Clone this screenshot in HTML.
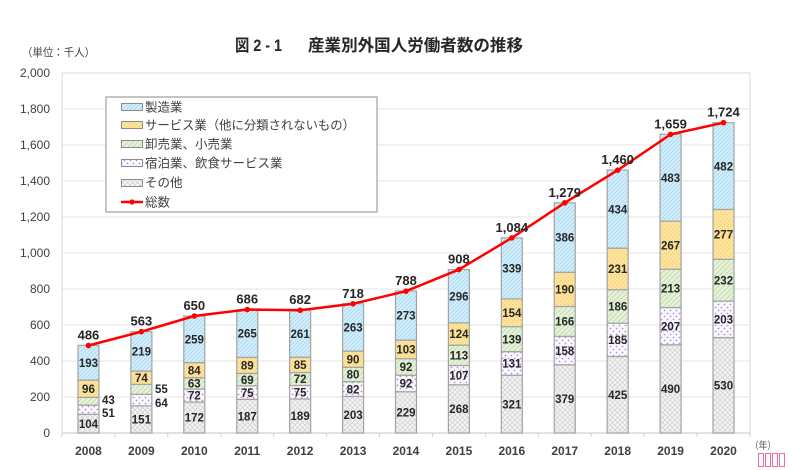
<!DOCTYPE html>
<html><head><meta charset="utf-8"><style>
html,body{margin:0;padding:0;background:#fff;}
svg{display:block;}
text{font-family:"Liberation Sans","Noto Sans CJK JP",sans-serif;}
</style></head><body>
<svg width="790" height="470" viewBox="0 0 790 470" xmlns="http://www.w3.org/2000/svg">
<defs>
<pattern id="pm" width="4" height="4" patternUnits="userSpaceOnUse"><rect width="4" height="4" fill="#d4eefb"/><path d="M-1,1 L1,-1 M0,4 L4,0 M3,5 L5,3" stroke="#a6d9f1" stroke-width="0.8"/></pattern>
<pattern id="ps" width="4" height="4" patternUnits="userSpaceOnUse"><rect width="4" height="4" fill="#fde39c"/><rect x="0" y="0" width="1.2" height="1.2" fill="#f3cf72"/><rect x="2" y="2" width="1.2" height="1.2" fill="#f3cf72"/></pattern>
<pattern id="pw" width="5" height="5" patternUnits="userSpaceOnUse"><rect width="5" height="5" fill="#e6f2dc"/><path d="M-1,1 L1,-1 M0,5 L5,0 M4,6 L6,4" stroke="#bcdba2" stroke-width="0.8"/></pattern>
<pattern id="ph" width="6" height="6" patternUnits="userSpaceOnUse"><rect width="6" height="6" fill="#fbf8fe"/><circle cx="1.5" cy="1.5" r="0.9" fill="#b48ee0"/><circle cx="4.5" cy="4.5" r="0.9" fill="#b48ee0"/></pattern>
<pattern id="po" width="5" height="5" patternUnits="userSpaceOnUse"><rect width="5" height="5" fill="#f4f4f4"/><path d="M0,0 L5,5 M5,0 L0,5" stroke="#cfcfcf" stroke-width="0.7"/></pattern>
</defs>

<!-- title -->
<text x="235" y="51" font-size="16.5" font-weight="bold" fill="#262626" textLength="47" lengthAdjust="spacingAndGlyphs">図 2 - 1</text>
<text x="308" y="51" font-size="16.5" font-weight="bold" fill="#262626" textLength="215" lengthAdjust="spacingAndGlyphs">産業別外国人労働者数の推移</text>
<text x="22" y="56" font-size="11" fill="#404040" textLength="73" lengthAdjust="spacingAndGlyphs">（単位：千人）</text>

<!-- gridlines -->
<g stroke="#e3e3e3" stroke-width="1">
<line x1="62" y1="397" x2="750" y2="397"/>
<line x1="62" y1="361" x2="750" y2="361"/>
<line x1="62" y1="325" x2="750" y2="325"/>
<line x1="62" y1="289" x2="750" y2="289"/>
<line x1="62" y1="253" x2="750" y2="253"/>
<line x1="62" y1="217" x2="750" y2="217"/>
<line x1="62" y1="181" x2="750" y2="181"/>
<line x1="62" y1="145" x2="750" y2="145"/>
<line x1="62" y1="109" x2="750" y2="109"/>
</g>
<rect x="62" y="73" width="688" height="360" fill="none" stroke="#d9d9d9" stroke-width="1"/>
<line x1="62" y1="433" x2="750" y2="433" stroke="#d0d0d0" stroke-width="1.2"/>
<g stroke="#d0d0d0" stroke-width="1">
<line x1="62" y1="433" x2="62" y2="437"/><line x1="114.9" y1="433" x2="114.9" y2="437"/><line x1="167.8" y1="433" x2="167.8" y2="437"/><line x1="220.8" y1="433" x2="220.8" y2="437"/><line x1="273.7" y1="433" x2="273.7" y2="437"/><line x1="326.6" y1="433" x2="326.6" y2="437"/><line x1="379.5" y1="433" x2="379.5" y2="437"/><line x1="432.4" y1="433" x2="432.4" y2="437"/><line x1="485.4" y1="433" x2="485.4" y2="437"/><line x1="538.3" y1="433" x2="538.3" y2="437"/><line x1="591.2" y1="433" x2="591.2" y2="437"/><line x1="644.1" y1="433" x2="644.1" y2="437"/><line x1="697" y1="433" x2="697" y2="437"/><line x1="750" y1="433" x2="750" y2="437"/>
</g>

<!-- y axis labels -->
<g font-size="12" fill="#404040" text-anchor="end">
<text x="50" y="437">0</text>
<text x="50" y="401">200</text>
<text x="50" y="365">400</text>
<text x="50" y="329">600</text>
<text x="50" y="293">800</text>
<text x="50" y="257">1,000</text>
<text x="50" y="221">1,200</text>
<text x="50" y="185">1,400</text>
<text x="50" y="149">1,600</text>
<text x="50" y="113">1,800</text>
<text x="50" y="77">2,000</text>
</g>

<!-- bars -->
<g stroke="#a3a3a3" stroke-width="1.2">
<!-- 2008 -->
<rect x="77.96" y="414.28" width="21" height="18.72" fill="url(#po)"/>
<rect x="77.96" y="405.1" width="21" height="9.18" fill="url(#ph)"/>
<rect x="77.96" y="397.36" width="21" height="7.74" fill="url(#pw)"/>
<rect x="77.96" y="380.08" width="21" height="17.28" fill="url(#ps)"/>
<rect x="77.96" y="345.34" width="21" height="34.74" fill="url(#pm)"/>
<!-- 2009 -->
<rect x="130.88" y="405.82" width="21" height="27.18" fill="url(#po)"/>
<rect x="130.88" y="394.3" width="21" height="11.52" fill="url(#ph)"/>
<rect x="130.88" y="384.4" width="21" height="9.9" fill="url(#pw)"/>
<rect x="130.88" y="371.08" width="21" height="13.32" fill="url(#ps)"/>
<rect x="130.88" y="331.66" width="21" height="39.42" fill="url(#pm)"/>
<!-- 2010 -->
<rect x="183.8" y="402.04" width="21" height="30.96" fill="url(#po)"/>
<rect x="183.8" y="389.08" width="21" height="12.96" fill="url(#ph)"/>
<rect x="183.8" y="377.74" width="21" height="11.34" fill="url(#pw)"/>
<rect x="183.8" y="362.62" width="21" height="15.12" fill="url(#ps)"/>
<rect x="183.8" y="316" width="21" height="46.62" fill="url(#pm)"/>
<!-- 2011 -->
<rect x="236.72" y="399.34" width="21" height="33.66" fill="url(#po)"/>
<rect x="236.72" y="385.84" width="21" height="13.5" fill="url(#ph)"/>
<rect x="236.72" y="373.42" width="21" height="12.42" fill="url(#pw)"/>
<rect x="236.72" y="357.4" width="21" height="16.02" fill="url(#ps)"/>
<rect x="236.72" y="309.7" width="21" height="47.7" fill="url(#pm)"/>
<!-- 2012 -->
<rect x="289.64" y="398.98" width="21" height="34.02" fill="url(#po)"/>
<rect x="289.64" y="385.48" width="21" height="13.5" fill="url(#ph)"/>
<rect x="289.64" y="372.52" width="21" height="12.96" fill="url(#pw)"/>
<rect x="289.64" y="357.22" width="21" height="15.3" fill="url(#ps)"/>
<rect x="289.64" y="310.24" width="21" height="46.98" fill="url(#pm)"/>
<!-- 2013 -->
<rect x="342.56" y="396.46" width="21" height="36.54" fill="url(#po)"/>
<rect x="342.56" y="381.7" width="21" height="14.76" fill="url(#ph)"/>
<rect x="342.56" y="367.3" width="21" height="14.4" fill="url(#pw)"/>
<rect x="342.56" y="351.1" width="21" height="16.2" fill="url(#ps)"/>
<rect x="342.56" y="303.76" width="21" height="47.34" fill="url(#pm)"/>
<!-- 2014 -->
<rect x="395.48" y="391.78" width="21" height="41.22" fill="url(#po)"/>
<rect x="395.48" y="375.22" width="21" height="16.56" fill="url(#ph)"/>
<rect x="395.48" y="358.66" width="21" height="16.56" fill="url(#pw)"/>
<rect x="395.48" y="340.12" width="21" height="18.54" fill="url(#ps)"/>
<rect x="395.48" y="290.98" width="21" height="49.14" fill="url(#pm)"/>
<!-- 2015 -->
<rect x="448.4" y="384.76" width="21" height="48.24" fill="url(#po)"/>
<rect x="448.4" y="365.5" width="21" height="19.26" fill="url(#ph)"/>
<rect x="448.4" y="345.16" width="21" height="20.34" fill="url(#pw)"/>
<rect x="448.4" y="322.84" width="21" height="22.32" fill="url(#ps)"/>
<rect x="448.4" y="269.56" width="21" height="53.28" fill="url(#pm)"/>
<!-- 2016 -->
<rect x="501.32" y="375.22" width="21" height="57.78" fill="url(#po)"/>
<rect x="501.32" y="351.64" width="21" height="23.58" fill="url(#ph)"/>
<rect x="501.32" y="326.62" width="21" height="25.02" fill="url(#pw)"/>
<rect x="501.32" y="298.9" width="21" height="27.72" fill="url(#ps)"/>
<rect x="501.32" y="237.88" width="21" height="61.02" fill="url(#pm)"/>
<!-- 2017 -->
<rect x="554.24" y="364.78" width="21" height="68.22" fill="url(#po)"/>
<rect x="554.24" y="336.34" width="21" height="28.44" fill="url(#ph)"/>
<rect x="554.24" y="306.46" width="21" height="29.88" fill="url(#pw)"/>
<rect x="554.24" y="272.26" width="21" height="34.2" fill="url(#ps)"/>
<rect x="554.24" y="202.78" width="21" height="69.48" fill="url(#pm)"/>
<!-- 2018 -->
<rect x="607.16" y="356.5" width="21" height="76.5" fill="url(#po)"/>
<rect x="607.16" y="323.2" width="21" height="33.3" fill="url(#ph)"/>
<rect x="607.16" y="289.72" width="21" height="33.48" fill="url(#pw)"/>
<rect x="607.16" y="248.14" width="21" height="41.58" fill="url(#ps)"/>
<rect x="607.16" y="170.02" width="21" height="78.12" fill="url(#pm)"/>
<!-- 2019 -->
<rect x="660.08" y="344.8" width="21" height="88.2" fill="url(#po)"/>
<rect x="660.08" y="307.54" width="21" height="37.26" fill="url(#ph)"/>
<rect x="660.08" y="269.2" width="21" height="38.34" fill="url(#pw)"/>
<rect x="660.08" y="221.14" width="21" height="48.06" fill="url(#ps)"/>
<rect x="660.08" y="134.2" width="21" height="86.94" fill="url(#pm)"/>
<!-- 2020 -->
<rect x="713" y="337.6" width="21" height="95.4" fill="url(#po)"/>
<rect x="713" y="301.06" width="21" height="36.54" fill="url(#ph)"/>
<rect x="713" y="259.3" width="21" height="41.76" fill="url(#pw)"/>
<rect x="713" y="209.44" width="21" height="49.86" fill="url(#ps)"/>
<rect x="713" y="122.68" width="21" height="86.76" fill="url(#pm)"/>
</g>

<!-- segment labels -->
<g font-size="11.5" font-weight="bold" fill="#262626" text-anchor="middle">
<text x="88.46" y="427.8">104</text><text x="88.46" y="392.9">96</text><text x="88.46" y="366.9">193</text>
<text x="141.38" y="423.6">151</text><text x="141.38" y="381.9">74</text><text x="141.38" y="355.5">219</text>
<text x="194.3" y="421.7">172</text><text x="194.3" y="399.7">72</text><text x="194.3" y="387.6">63</text><text x="194.3" y="374.4">84</text><text x="194.3" y="343.5">259</text>
<text x="247.22" y="420.4">187</text><text x="247.22" y="396.8">75</text><text x="247.22" y="383.8">69</text><text x="247.22" y="369.6">89</text><text x="247.22" y="337.7">265</text>
<text x="300.14" y="420.2">189</text><text x="300.14" y="396.4">75</text><text x="300.14" y="383.2">72</text><text x="300.14" y="369.1">85</text><text x="300.14" y="337.9">261</text>
<text x="353.06" y="418.9">203</text><text x="353.06" y="393.3">82</text><text x="353.06" y="378.7">80</text><text x="353.06" y="363.4">90</text><text x="353.06" y="331.6">263</text>
<text x="405.98" y="416.6">229</text><text x="405.98" y="387.7">92</text><text x="405.98" y="371.1">92</text><text x="405.98" y="353.6">103</text><text x="405.98" y="319.7">273</text>
<text x="458.9" y="413.1">268</text><text x="458.9" y="379.3">107</text><text x="458.9" y="359.5">113</text><text x="458.9" y="338.2">124</text><text x="458.9" y="300.4">296</text>
<text x="511.82" y="408.3">321</text><text x="511.82" y="367.6">131</text><text x="511.82" y="343.3">139</text><text x="511.82" y="316.9">154</text><text x="511.82" y="272.6">339</text>
<text x="564.74" y="403.1">379</text><text x="564.74" y="354.8">158</text><text x="564.74" y="325.6">166</text><text x="564.74" y="293.5">190</text><text x="564.74" y="241.7">386</text>
<text x="617.66" y="398.9">425</text><text x="617.66" y="344">185</text><text x="617.66" y="310.6">186</text><text x="617.66" y="273.1">231</text><text x="617.66" y="213.3">434</text>
<text x="670.58" y="393.1">490</text><text x="670.58" y="330.4">207</text><text x="670.58" y="292.6">213</text><text x="670.58" y="249.3">267</text><text x="670.58" y="181.9">483</text>
<text x="723.5" y="389.5">530</text><text x="723.5" y="323.5">203</text><text x="723.5" y="284.4">232</text><text x="723.5" y="238.6">277</text><text x="723.5" y="170.3">482</text>
</g>
<g font-size="11.5" font-weight="bold" fill="#262626">
<text x="102" y="404.2">43</text><text x="102" y="417.2">51</text>
<text x="155" y="393.2">55</text><text x="155" y="407.2">64</text>
</g>

<!-- total line -->
<polyline points="88.46,345.52 141.38,331.66 194.3,316 247.22,309.52 300.14,310.24 353.06,303.76 405.98,291.16 458.9,269.56 511.82,237.88 564.74,202.78 617.66,170.2 670.58,134.38 723.5,122.68" fill="none" stroke="#ff0000" stroke-width="2.5" stroke-linejoin="round"/>
<g fill="#ff0000">
<circle cx="88.46" cy="345.52" r="2.8"/><circle cx="141.38" cy="331.66" r="2.8"/><circle cx="194.3" cy="316" r="2.8"/><circle cx="247.22" cy="309.52" r="2.8"/><circle cx="300.14" cy="310.24" r="2.8"/><circle cx="353.06" cy="303.76" r="2.8"/><circle cx="405.98" cy="291.16" r="2.8"/><circle cx="458.9" cy="269.56" r="2.8"/><circle cx="511.82" cy="237.88" r="2.8"/><circle cx="564.74" cy="202.78" r="2.8"/><circle cx="617.66" cy="170.2" r="2.8"/><circle cx="670.58" cy="134.38" r="2.8"/><circle cx="723.5" cy="122.68" r="2.8"/>
</g>
<g font-size="13" font-weight="bold" fill="#262626" text-anchor="middle">
<text x="88.46" y="339.5">486</text>
<text x="141.38" y="325.7">563</text>
<text x="194.3" y="310">650</text>
<text x="247.22" y="303.5">686</text>
<text x="300.14" y="304.2">682</text>
<text x="353.06" y="297.8">718</text>
<text x="405.98" y="285.2">788</text>
<text x="458.9" y="263.6">908</text>
<text x="511.82" y="231.9">1,084</text>
<text x="564.74" y="196.8">1,279</text>
<text x="617.66" y="164.2">1,460</text>
<text x="670.58" y="128.4">1,659</text>
<text x="723.5" y="116.7">1,724</text>
</g>

<!-- x labels -->
<g font-size="12" font-weight="bold" fill="#404040" text-anchor="middle">
<text x="88.46" y="455">2008</text><text x="141.38" y="455">2009</text><text x="194.3" y="455">2010</text><text x="247.22" y="455">2011</text><text x="300.14" y="455">2012</text><text x="353.06" y="455">2013</text><text x="405.98" y="455">2014</text><text x="458.9" y="455">2015</text><text x="511.82" y="455">2016</text><text x="564.74" y="455">2017</text><text x="617.66" y="455">2018</text><text x="670.58" y="455">2019</text><text x="723.5" y="455">2020</text>
</g>
<text x="750" y="449" font-size="10" fill="#595959" textLength="26" lengthAdjust="spacingAndGlyphs">（年）</text>
<g fill="none" stroke="#f06a9a" stroke-width="1">
<rect x="758.5" y="453.5" width="5" height="13"/><rect x="765.5" y="453.5" width="5" height="13"/><rect x="772.5" y="453.5" width="5" height="13"/><rect x="779.5" y="453.5" width="5" height="13"/>
</g>

<!-- legend -->
<rect x="106" y="97" width="271" height="115" fill="#fff" stroke="#a6a6a6" stroke-width="1.3"/>
<g stroke="#8c8c8c" stroke-width="1">
<rect x="121.5" y="103.5" width="21" height="7" fill="url(#pm)"/>
<rect x="121.5" y="121.5" width="21" height="7" fill="url(#ps)"/>
<rect x="121.5" y="140.5" width="21" height="7" fill="url(#pw)"/>
<rect x="121.5" y="159.5" width="21" height="7" fill="url(#ph)"/>
<rect x="121.5" y="179.5" width="21" height="7" fill="url(#po)"/>
</g>
<line x1="121" y1="202" x2="143" y2="202" stroke="#ff0000" stroke-width="2.5"/>
<circle cx="132" cy="202" r="2.6" fill="#ff0000"/>
<g font-size="12.5" fill="#404040">
<text x="145" y="111.5">製造業</text>
<text x="145" y="129.5" textLength="210" lengthAdjust="spacingAndGlyphs">サービス業（他に分類されないもの）</text>
<text x="145" y="148.5">卸売業、小売業</text>
<text x="145" y="167.5">宿泊業、飲食サービス業</text>
<text x="145" y="187">その他</text>
<text x="145" y="206.5">総数</text>
</g>
</svg>
</body></html>
